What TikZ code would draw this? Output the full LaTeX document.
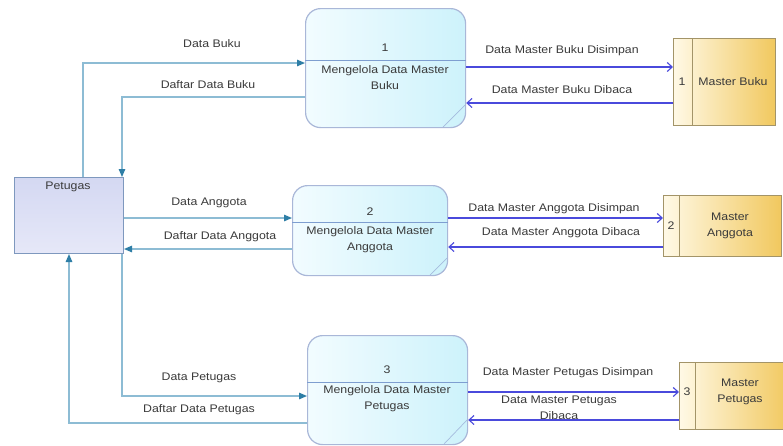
\documentclass[tikz,border=0pt]{standalone}
\usepackage{fontspec}
\setmainfont{Liberation Sans}[FakeStretch=1.12]
\usetikzlibrary{arrows.meta,calc}
\definecolor{txtc}{HTML}{3A3A3A}
\definecolor{entfill}{HTML}{D4D8F2}
\definecolor{entfill2}{HTML}{E6E8F8}
\definecolor{entline}{HTML}{7E98BE}
\definecolor{procA}{HTML}{F2FCFF}
\definecolor{procB}{HTML}{CDF2FB}
\definecolor{procline}{HTML}{A9B7D8}
\definecolor{procdiv}{HTML}{7E9ED0}
\definecolor{storeA}{HTML}{FFF9E6}
\definecolor{storeB}{HTML}{F1C85E}
\definecolor{storeline}{HTML}{A39468}
\definecolor{leftline}{HTML}{8DBCD4}
\definecolor{lefthead}{HTML}{2E7EA6}
\definecolor{rightline}{HTML}{4A4ADC}
\tikzset{
  x=1pt, y=-1pt,
  lbl/.style={font=\fontsize{11}{16}\selectfont, text=txtc, inner sep=0pt, align=center},
  entitybox/.style={draw=entline, line width=1pt, top color=entfill, bottom color=entfill2,
    anchor=north west, inner sep=0pt},
  procbox/.style={draw=procline, line width=1.2pt, rounded corners=15pt, left color=procA,
    right color=procB, anchor=north west, inner sep=0pt},
  storebox/.style={draw=storeline, line width=0.9pt, left color=storeA, right color=storeB,
    anchor=north west, inner sep=0pt},
  inflow/.style={draw=leftline, line width=1.3pt,
    -{Triangle[length=8pt,width=6.5pt,color=lefthead]}},
  storeflow/.style={draw=rightline, line width=1.1pt,
    -{Straight Barb[length=5pt,width=9pt]}},
  divline/.style={draw=procdiv, line width=0.7pt},
  cornerline/.style={draw=procdiv!70, line width=0.7pt},
}
\begin{document}
\begin{tikzpicture}
\useasboundingbox (0,0) rectangle (783,445);
\fill[white] (0,0) rectangle (783,445);

% external entity
\node[entitybox, minimum width=109pt, minimum height=76pt] (P) at (14,177) {};
\node[lbl] (Pt) at (68,187) {Petugas};

% processes
\node[procbox, minimum width=160pt, minimum height=119pt] (p1) at (305,8) {};
\draw[divline] (p1.west |- 0,60) -- (p1.east |- 0,60);
\draw[cornerline] (443,127) -- (465,105);
\node[lbl] (p1n) at (385,48) {1};
\node[lbl] (p1t) at (385,78) {Mengelola Data Master\\Buku};

\node[procbox, minimum width=155pt, minimum height=90pt] (p2) at (292,185) {};
\draw[divline] (p2.west |- 0,222) -- (p2.east |- 0,222);
\draw[cornerline] (430,275) -- (447,258);
\node[lbl] (p2n) at (370,212) {2};
\node[lbl] (p2t) at (370,240) {Mengelola Data Master\\Anggota};

\node[procbox, minimum width=160pt, minimum height=109pt] (p3) at (307,335) {};
\draw[divline] (p3.west |- 0,382) -- (p3.east |- 0,382);
\draw[cornerline] (444,444) -- (467,420);
\node[lbl] (p3n) at (387,370) {3};
\node[lbl] (p3t) at (387,399) {Mengelola Data Master\\Petugas};

% data stores
\node[storebox, minimum width=102pt, minimum height=87pt] (s1) at (673,38) {};
\draw[storeline, line width=0.8pt] (692,38) -- (692,125);
\node[lbl] (s1n) at (682,82) {1};
\node[lbl] (s1t) at (733,82) {Master Buku};

\node[storebox, minimum width=118pt, minimum height=61pt] (s2) at (663,195) {};
\draw[storeline, line width=0.8pt] (679,195) -- (679,256);
\node[lbl] (s2n) at (671,226) {2};
\node[lbl] (s2t) at (730,226) {Master\\Anggota};

\node[storebox, minimum width=110pt, minimum height=67pt] (s3) at (679,362) {};
\draw[storeline, line width=0.8pt] (695,362) -- (695,429);
\node[lbl] (s3n) at (687,392) {3};
\node[lbl] (s3t) at (740,392) {Master\\Petugas};

% flows between Petugas and the processes
\draw[inflow] (P.north -| 83,0) |- (p1.west |- 0,63);
\draw[inflow] (p1.west |- 0,97) -| (P.north -| 122,0);
\draw[inflow] (P.east |- 0,218) -- (p2.west |- 0,218);
\draw[inflow] (p2.west |- 0,249) -- (P.east |- 0,249);
\draw[inflow] (P.south -| 122,0) |- (p3.west |- 0,396);
\draw[inflow] (p3.west |- 0,423) -| (P.south -| 69,0);

\node[lbl] (l1) at (212,44) {Data Buku};
\node[lbl] (l2) at (208,85) {Daftar Data Buku};
\node[lbl] (l3) at (209,203) {Data Anggota};
\node[lbl] (l4) at (220,237) {Daftar Data Anggota};
\node[lbl] (l5) at (199,378) {Data Petugas};
\node[lbl] (l6) at (199,410) {Daftar Data Petugas};

% flows between the processes and the data stores
\draw[storeflow] (p1.east |- 0,67) -- (s1.west |- 0,67);
\draw[storeflow] (s1.west |- 0,103) -- (p1.east |- 0,103);
\draw[storeflow] (p2.east |- 0,218) -- (s2.west |- 0,218);
\draw[storeflow] (s2.west |- 0,247) -- (p2.east |- 0,247);
\draw[storeflow] (p3.east |- 0,392) -- (s3.west |- 0,392);
\draw[storeflow] (s3.west |- 0,420) -- (p3.east |- 0,420);

\node[lbl] (r1) at (562,51) {Data Master Buku Disimpan};
\node[lbl] (r2) at (562,90) {Data Master Buku Dibaca};
\node[lbl] (r3) at (554,209) {Data Master Anggota Disimpan};
\node[lbl] (r4) at (561,233) {Data Master Anggota Dibaca};
\node[lbl] (r5) at (568,373) {Data Master Petugas Disimpan};
\node[lbl] (r6) at (559,408) {Data Master Petugas\\Dibaca};
\end{tikzpicture}
\end{document}
